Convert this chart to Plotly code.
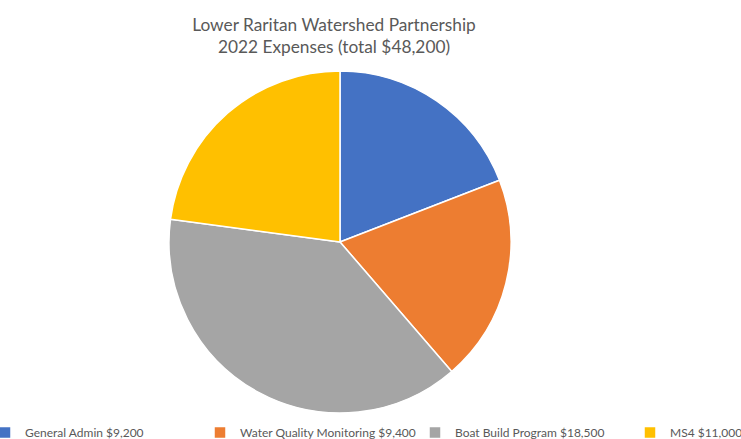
import plotly.graph_objects as go

categories = ["General Admin $9,200", "Water Quality Monitoring $9,400",
              "Boat Build Program $18,500", "MS4 $11,000"]
values = [9200, 9400, 18500, 11000]
colors = ["#4472C4", "#ED7D31", "#A5A5A5", "#FFC000"]

# Visible window is 741x439; the figure is laid out a bit wider so the
# four legend entries fit on one row with Excel-like spacing.
VIEW_W, H = 741, 439
W = 880
cx, cy, r = 340, 242, 171

fig = go.Figure(go.Pie(
    labels=categories,
    values=values,
    sort=False,
    direction="clockwise",
    rotation=0,
    textinfo="none",
    hoverinfo="label+value",
    marker=dict(colors=colors, line=dict(color="white", width=1.5)),
    domain=dict(x=[(cx - r) / W, (cx + r) / W],
                y=[(H - cy - r) / H, (H - cy + r) / H]),
))

fig.update_layout(
    width=W, height=H,
    margin=dict(l=0, r=0, t=0, b=0, autoexpand=False),
    paper_bgcolor="white",
    plot_bgcolor="white",
    font=dict(family="Lato, Open Sans, sans-serif", color="#595959"),
    title=dict(
        text="Lower Raritan Watershed Partnership<br>2022 Expenses (total $48,200)",
        x=334 / W, xanchor="center", y=1 - 31 / H, yanchor="middle",
        font=dict(size=17.3, color="#595959"),
    ),
    legend=dict(
        orientation="h",
        x=-15 / W, xanchor="left",
        y=-0.018, yanchor="bottom",
        entrywidth=170, entrywidthmode="pixels",
        font=dict(size=12, color="#595959"),
        bgcolor="rgba(0,0,0,0)",
    ),
    showlegend=True,
)

fig.write_html(
    "out.html",
    config={"displayModeBar": False},
    post_script="document.body.style.margin='0';document.body.style.overflow='hidden';",
)
